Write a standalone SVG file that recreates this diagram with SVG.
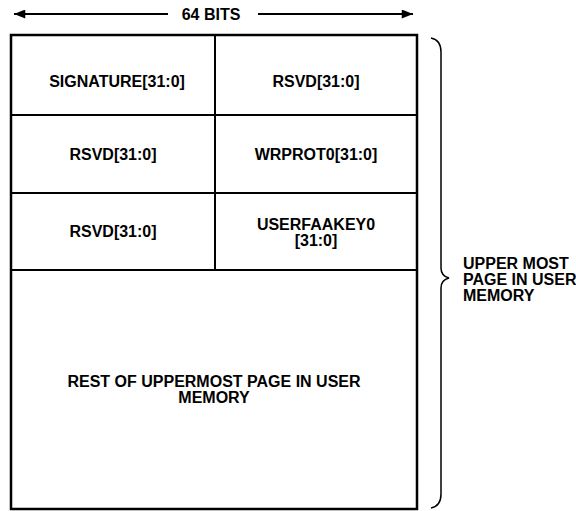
<svg xmlns="http://www.w3.org/2000/svg" width="576" height="511" viewBox="0 0 576 511">
<defs>
<marker id="ah" viewBox="0 0 10 8" refX="10" refY="4" markerWidth="17" markerHeight="9" markerUnits="userSpaceOnUse" orient="auto-start-reverse">
<path d="M0,0 L10,4 L0,8 Z" fill="#000"/>
</marker>
<style>
text{font-family:"Liberation Sans",Arial,sans-serif;font-weight:bold;font-size:16px;fill:#000}
.c{text-anchor:middle}
.grid{stroke:#000;stroke-width:2;fill:none}
</style>
</defs>
<g id="width-arrow">
<line x1="14" y1="14" x2="168" y2="14" stroke="#000" stroke-width="2" marker-start="url(#ah)"/>
<line x1="258" y1="14" x2="413" y2="14" stroke="#000" stroke-width="2" marker-end="url(#ah)"/>
<text class="c" x="211" y="20">64 BITS</text>
</g>
<g id="frame">
<rect x="11" y="35" width="406" height="474" fill="#fff" stroke="#000" stroke-width="2.5"/>
<line class="grid" x1="11" y1="115" x2="417" y2="115"/>
<line class="grid" x1="11" y1="193" x2="417" y2="193"/>
<line class="grid" x1="11" y1="270" x2="417" y2="270"/>
<line class="grid" x1="215" y1="35" x2="215" y2="270"/>
</g>
<g id="signature"><text class="c" x="117" y="87">SIGNATURE[31:0]</text></g>
<g id="rsvd-1"><text class="c" x="316" y="87">RSVD[31:0]</text></g>
<g id="rsvd-2"><text class="c" x="113" y="160">RSVD[31:0]</text></g>
<g id="wrprot0"><text class="c" x="316" y="160">WRPROT0[31:0]</text></g>
<g id="rsvd-3"><text class="c" x="113" y="237">RSVD[31:0]</text></g>
<g id="userfaakey0"><text class="c" x="316" y="230">USERFAAKEY0</text><text class="c" x="316" y="246">[31:0]</text></g>
<g id="rest"><text class="c" x="214" y="387">REST OF UPPERMOST PAGE IN USER</text><text class="c" x="214" y="403">MEMORY</text></g>
<g id="brace">
<path d="M431,38 Q441,40 441,52 L441,268 Q441,276 449,278 Q441,280 441,288 L441,494 Q441,506 431,508" fill="none" stroke="#000" stroke-width="1.5"/>
<text x="463" y="269">UPPER MOST</text>
<text x="463" y="285">PAGE IN USER</text>
<text x="463" y="301">MEMORY</text>
</g>
</svg>
